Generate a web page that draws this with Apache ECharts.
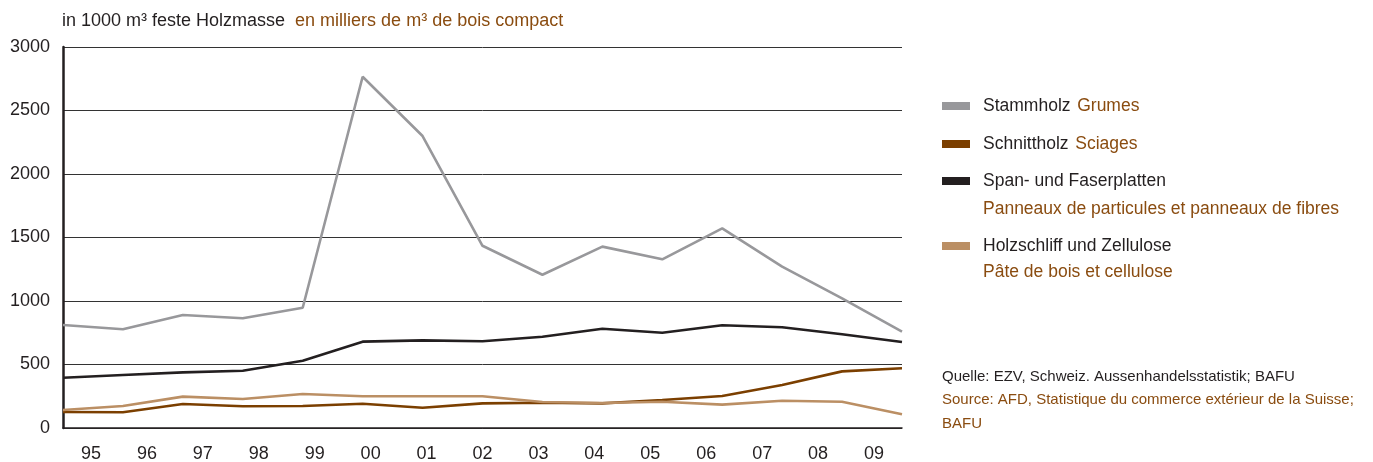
<!DOCTYPE html>
<html>
<head>
<meta charset="utf-8">
<script src="https://cdn.jsdelivr.net/npm/echarts@6/dist/echarts.min.js"></script>
<style>
  html, body { margin: 0; padding: 0; background: #fff; }
  #chart { width: 1373px; height: 462px; }
</style>
</head>
<body>
<div id="chart"></div>
<script>
// Years (two-digit labels) and yearly imports, in 1000 m³ solid wood
const years = ['95', '96', '97', '98', '99', '00', '01', '02', '03', '04', '05', '06', '07', '08', '09'];
const stammholz = [811, 777, 890, 864, 947, 2766, 2299, 1435, 1207, 1428, 1328, 1572, 1270, 1020, 758];
const schnittholz = [126, 124, 189, 171, 173, 191, 160, 194, 199, 194, 220, 252, 339, 446, 470];
const spanplatten = [396, 417, 438, 451, 530, 680, 690, 683, 719, 782, 750, 809, 793, 738, 677];
const holzschliff = [142, 173, 247, 228, 268, 250, 250, 250, 205, 197, 207, 184, 215, 207, 108];

const namesDe = ['Stammholz', 'Schnittholz', 'Span- und Faserplatten', 'Holzschliff und Zellulose'];
const namesFr = ['Grumes', 'Sciages', 'Panneaux de particules et panneaux de fibres', 'Pâte de bois et cellulose'];
const colors = ['#98989b', '#7b3f00', '#231f20', '#bb8f64'];
const unitDe = 'in 1000 m³ feste Holzmasse';
const unitFr = 'en milliers de m³ de bois compact';
const sourceLines = [
  'Quelle: EZV, Schweiz. Aussenhandelsstatistik; BAFU',
  'Source: AFD, Statistique du commerce extérieur de la Suisse;',
  'BAFU'
];

const DARK = '#231f20';
const BROWN = '#8a4c10';
const SANS = '"Liberation Sans", Arial, sans-serif';

const seriesData = [stammholz, schnittholz, spanplatten, holzschliff];
const legendRows = [97, 135, 172, 237];   // top of each legend entry
const frRows = [null, null, 200, 263];    // top of the French second line
const singleLine = [true, true, false, false];

const chart = echarts.init(document.getElementById('chart'), null, { renderer: 'canvas' });

const legends = namesDe.map((de, i) => ({
  data: [de],
  orient: 'vertical',
  left: 942,
  top: legendRows[i],
  padding: 0,
  itemWidth: 28,
  itemHeight: 8,
  icon: 'rect',
  selectedMode: false,
  textStyle: {
    padding: [0, 0, 0, 8],
    rich: {
      de: { fontFamily: SANS, fontSize: 17.5, color: DARK },
      fr: { fontFamily: SANS, fontSize: 17.5, color: BROWN }
    }
  },
  formatter: name => {
    const k = namesDe.indexOf(name);
    return singleLine[k] ? '{de|' + name + '}  {fr|' + namesFr[k] + '}' : '{de|' + name + '}';
  }
}));

const option = {
  backgroundColor: '#ffffff',
  animation: false,
  title: {
    left: 62,
    top: 12,
    padding: 0,
    text: '{de|' + unitDe + '}  {fr|' + unitFr + '}',
    textStyle: {
      fontWeight: 'normal',
      rich: {
        de: { fontFamily: SANS, fontSize: 18, fontWeight: 'normal', color: DARK },
        fr: { fontFamily: SANS, fontSize: 18, fontWeight: 'normal', color: BROWN }
      }
    }
  },
  legend: legends,
  grid: { left: 63, right: 471, top: 47, bottom: 34, containLabel: false, outerBoundsMode: 'none' },
  xAxis: [
    {
      type: 'category',
      data: years,
      boundaryGap: true,
      axisLine: { show: true, lineStyle: { color: DARK, width: 1.5 } },
      axisTick: { show: false },
      axisLabel: { fontFamily: SANS, fontSize: 18, color: DARK, margin: 17 },
      splitLine: { show: false }
    },
    {
      type: 'category',
      data: years,
      boundaryGap: false,
      show: false,
      position: 'bottom'
    }
  ],
  yAxis: {
    type: 'value',
    min: 0,
    max: 3000,
    interval: 500,
    axisLine: { show: true, lineStyle: { color: DARK, width: 2.5 } },
    axisTick: { show: false },
    axisLabel: { fontFamily: SANS, fontSize: 18, color: DARK, margin: 13, formatter: v => String(v) },
    splitLine: { show: true, lineStyle: { color: '#333333', width: 1 } }
  },
  series: namesDe.map((de, i) => ({
    name: de,
    type: 'line',
    xAxisIndex: 1,
    data: seriesData[i],
    symbol: 'none',
    lineStyle: { color: colors[i], width: 2.6 },
    itemStyle: { color: colors[i] },
    z: 3
  })),
  graphic: [
    ...[2, 3].map(i => ({
      type: 'text',
      left: 983,
      top: frRows[i],
      style: { text: namesFr[i], font: '17.5px ' + SANS, fill: BROWN }
    })),
    ...sourceLines.map((line, j) => ({
      type: 'text',
      left: 942,
      top: 369 + j * 23.5,
      style: { text: line, font: '15px ' + SANS, fill: j === 0 ? DARK : BROWN }
    }))
  ]
};

chart.setOption(option);
</script>
</body>
</html>
